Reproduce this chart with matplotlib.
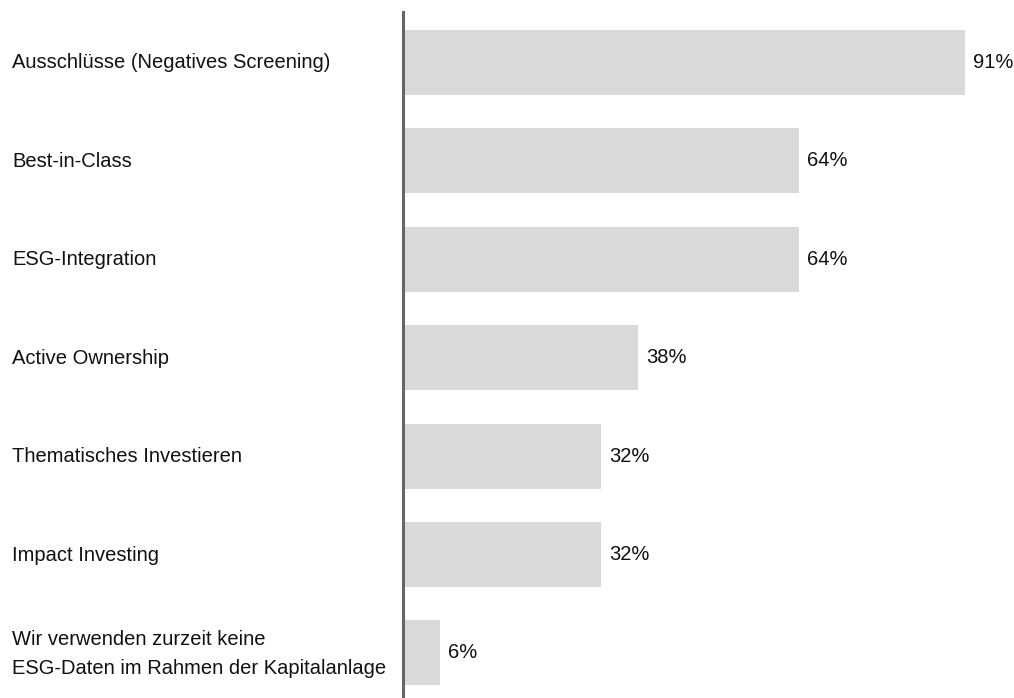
import matplotlib
matplotlib.use("Agg")
import matplotlib.pyplot as plt

categories = [
    "Ausschlüsse (Negatives Screening)",
    "Best-in-Class",
    "ESG-Integration",
    "Active Ownership",
    "Thematisches Investieren",
    "Impact Investing",
    "Wir verwenden zurzeit keine\nESG-Daten im Rahmen der Kapitalanlage",
]
values = [91, 64, 64, 38, 32, 32, 6]
value_labels = ["91%", "64%", "64%", "38%", "32%", "32%", "6%"]

plt.rcParams['font.family'] = ['Liberation Sans', 'DejaVu Sans']
FS = 14.5

W, H = 1014, 698
fig = plt.figure(figsize=(W / 100, H / 100), dpi=100)
ax_left = 403 / W
ax_right = (403 + 6.18 * 100) / W
ax = fig.add_axes([ax_left, 0, ax_right - ax_left, 1 - 12 / H])

y = list(range(len(categories)))
ax.barh(y, values, height=0.66, color="#d9d9d9", edgecolor="none")
ax.set_xlim(0, 100)
ax.set_ylim(6.457, -0.508)

for i, (v, lab) in enumerate(zip(values, value_labels)):
    ax.text(v + 1.3, i, lab, va="center", ha="left", fontsize=FS, color="#111111")

for i, c in enumerate(categories):
    ax.text(12 / W, 1 - (63 + 98.5 * i) / H, c, transform=fig.transFigure,
            va="center", ha="left", fontsize=FS, color="#111111", linespacing=1.65)

for s in ["top", "right", "bottom"]:
    ax.spines[s].set_visible(False)
ax.spines["left"].set_color("#666666")
ax.spines["left"].set_linewidth(2.2)
ax.set_xticks([])
ax.set_yticks([])
ax.patch.set_alpha(0)

fig.savefig("out.png", dpi=100, facecolor="white")
